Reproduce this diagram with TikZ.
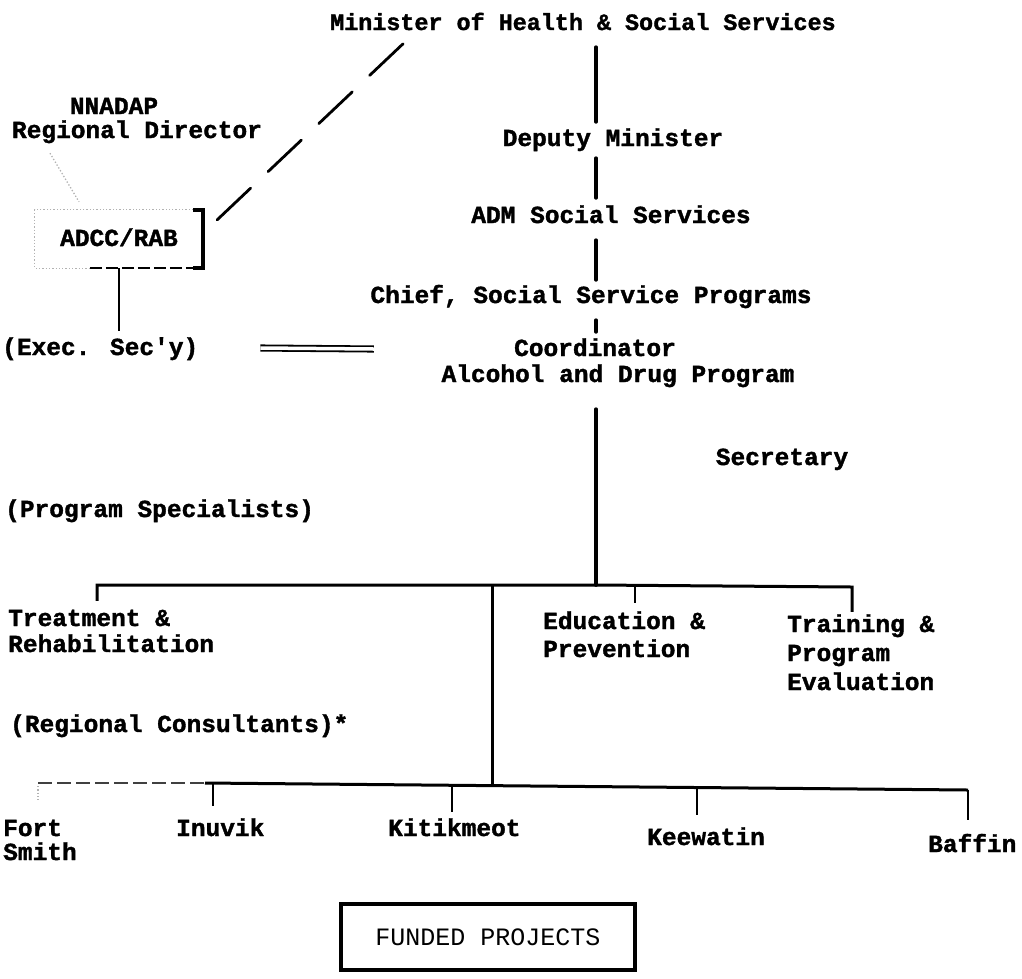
\documentclass[tikz,border=0pt]{standalone}
\usepackage{fontspec}
\setmainfont{Liberation Mono}[Ligatures=TeXOff, BoldFeatures={FakeBold=1.5}]
\usetikzlibrary{calc}
\begin{document}
\begin{tikzpicture}[x=1pt,y=-1pt,
  lbl/.style={inner sep=0pt, text height=14pt, text depth=0pt, font=\fontsize{24.5}{26}\selectfont\bfseries},
  lw/.style={lbl, anchor=west},
  spine/.style={line width=3.8pt, line cap=round},
  barline/.style={line width=3pt},
  tick/.style={line width=2.4pt},
  faint/.style={gray!60, line width=1.3pt, dotted},
  dashdiag/.style={line width=2.8pt, line cap=round, dash pattern=on 46pt off 24pt},
]
\useasboundingbox (0,0) rectangle (1022,978);
\coordinate (sx) at (596,0);
% nodes
\node[lbl, anchor=west, font=\fontsize{23.4}{26}\selectfont\bfseries] (min) at (330,23) {Minister of Health \& Social Services};
\node[lbl] (dep) at (613,139) {Deputy Minister};
\node[lbl] (adm) at (611,216) {ADM Social Services};
\node[lbl] (chief) at (591,296) {Chief, Social Service Programs};
\node[lbl] (coord) at (595,349) {Coordinator};
\node[lbl] (alc) at (618,375) {Alcohol and Drug Program};
\node[lbl] (sec) at (782,458) {Secretary};
\node[lbl] (nnadap) at (114,107) {NNADAP};
\node[lbl] (rdir) at (137,131) {Regional Director};
\node[lbl, minimum width=168pt, minimum height=58pt] (adcc) at (119,239) {ADCC/RAB};
\node[lw] (exec) at (2,348) {(Exec. Sec'y)};
\node[lw] (spec) at (5,510) {(Program Specialists)};
\node[lw] (tr1) at (8,619) {Treatment \&};
\node[lw] (tr2) at (8,645) {Rehabilitation};
\node[lw] (ed1) at (543,622) {Education \&};
\node[lw] (ed2) at (543,650) {Prevention};
\node[lw] (tn1) at (787,625) {Training \&};
\node[lw] (tn2) at (787,654) {Program};
\node[lw] (tn3) at (787,683) {Evaluation};
\node[lw] (cons) at (10,725) {(Regional Consultants)*};
\node[lw] (fs1) at (3,829) {Fort};
\node[lw] (fs2) at (3,853) {Smith};
\node[lw] (inu) at (176,829) {Inuvik};
\node[lw] (kit) at (388,829) {Kitikmeot};
\node[lw] (kee) at (647,838) {Keewatin};
\node[lw] (baf) at (928,845) {Baffin};
\node[draw, line width=3.5pt, minimum width=294pt, minimum height=66pt, inner sep=0pt, font=\fontsize{25}{26}\selectfont] (fund) at (488,937) {FUNDED PROJECTS};
% spine
\draw[spine, shorten <=17pt, shorten >=10pt] (min.south -| sx) -- (dep.north -| sx);
\draw[spine, shorten <=12pt, shorten >=11pt] (dep.south -| sx) -- (adm.north -| sx);
\draw[spine, shorten <=17pt, shorten >=9pt] (adm.south -| sx) -- (chief.north -| sx);
\draw[spine, shorten <=17pt, shorten >=10pt] (chief.south -| sx) -- (coord.north -| sx);
\coordinate (bar) at (596,585);
\draw[spine, shorten <=27pt] (alc.south -| sx) -- (bar);
% program bar
\coordinate (barL) at (97,585);
\coordinate (barR) at (852,587);
\draw[barline] ($(tr1.north -| barL)+(0,-11)$) -- (barL) -- (bar) -- (barR) -- ($(tn1.north -| barR)+(0,-6)$);
\coordinate (et) at (635,586);
\draw[tick, shorten >=12pt] (et) -- (ed1.north -| et);
\coordinate (vt) at (492,585);
\coordinate (vb) at (492,784);
\draw[barline] (vt) -- (vb);
% regional line
\coordinate (bl0) at (38,783);
\coordinate (bl1) at (205,783);
\coordinate (blR) at (968,790);
\draw[line width=2pt, dash pattern=on 14pt off 5pt, black!75] (bl0) -- (bl1);
\draw[barline] (bl1) -- (blR);
\coordinate (t1) at (213,783);
\coordinate (t2) at (452,785);
\coordinate (t3) at (697,787.5);
\draw[tick, shorten >=16pt] (t1) -- (inu.north -| t1);
\draw[tick, shorten >=10pt] (t2) -- (kit.north -| t2);
\draw[tick, shorten >=16pt] (t3) -- (kee.north -| t3);
\draw[tick, shorten >=18pt] (blR) -- (baf.north -| blR);
\draw[faint, shorten <=3pt, shorten >=22pt] (bl0) -- (fs1.north -| bl0);
% ADCC frame
\draw[faint] ([xshift=-10pt]adcc.north east) -- (adcc.north west) -- (adcc.south west) -- ([xshift=55pt]adcc.south west);
\draw[line width=1.6pt, dash pattern=on 12pt off 4pt] ([xshift=55pt]adcc.south west) -- ([xshift=-10pt]adcc.south east);
\draw[line width=4.5pt] ([xshift=-10pt]adcc.north east) -- (adcc.north east) -- (adcc.south east) -- ([xshift=-10pt]adcc.south east);
\draw[tick, shorten >=10pt] (adcc.south) -- (adcc.south |- exec.north);
\draw[faint] ([xshift=-87pt,yshift=-15pt]rdir.south) -- ([xshift=-40pt,yshift=8pt]adcc.north);
\draw[dashdiag] ([xshift=14pt,yshift=-10pt]adcc.north east) -- ($(min.south west)+(80,7)$);
% double line
\draw[line width=1.8pt, double, double distance=3.5pt] ($(exec.east)+(62,0)$) -- ($(coord.west)+(-140,0)$);
\end{tikzpicture}
\end{document}
